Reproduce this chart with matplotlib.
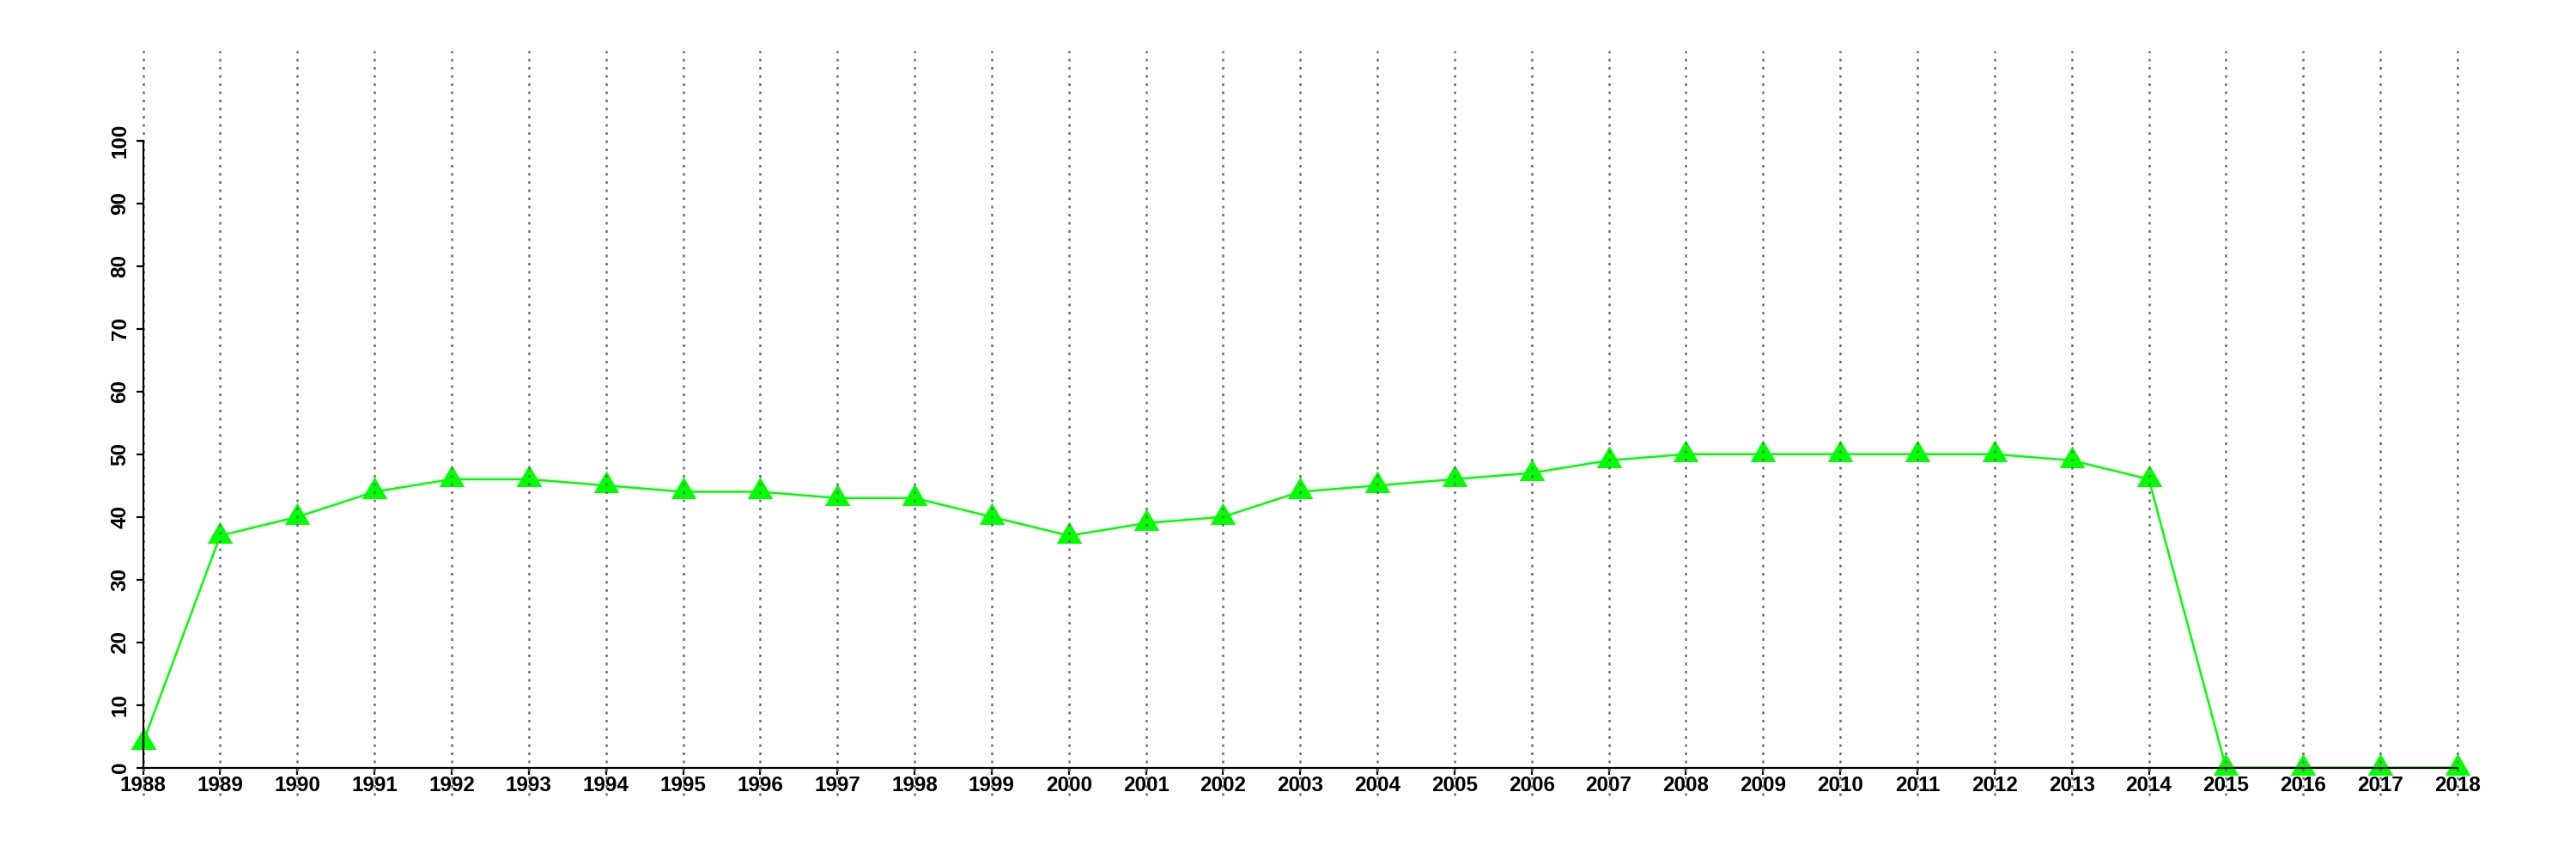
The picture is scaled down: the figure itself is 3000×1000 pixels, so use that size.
import matplotlib
matplotlib.use("Agg")
import matplotlib.pyplot as plt

# yearly values
years = list(range(1988, 2019))
values = [4, 37, 40, 44, 46, 46, 45, 44, 44, 43, 43, 40, 37, 39, 40,
          44, 45, 46, 47, 49, 50, 50, 50, 50, 50, 49, 46, 0, 0, 0, 0]
yticks = list(range(0, 101, 10))

plt.rcParams['font.family'] = ['Liberation Sans', 'DejaVu Sans']
plt.rcParams['font.weight'] = 'bold'

fig = plt.figure(figsize=(30, 10), dpi=100)
ax = fig.add_axes([0.0196, 0.0742, 0.9703, 0.8672])

# equilateral triangle like R's pch=17
tri = [(0, 1), (-0.866, -0.5), (0.866, -0.5)]
ax.plot(years, values, color='#00ff00', lw=1.8, marker=tri, ms=24.5,
        mec='none', mfc='#00ff00', zorder=2)

ax.set_xlim(1986.8, 2019.2)
ax.set_ylim(-4.4, 114.4)

# dotted grid lines across the whole plot region, drawn over the data
ax.vlines(years, -4.4, 114.4, colors='#6e6e6e', lw=1.8,
          linestyles=(0, (1.2, 2.6)), zorder=3, clip_on=False)

for s in ['top', 'right']:
    ax.spines[s].set_visible(False)
ax.spines['left'].set_position(('data', 1988))
ax.spines['left'].set_bounds(0, 100)
ax.spines['bottom'].set_position(('data', 0))
ax.spines['bottom'].set_bounds(1988, 2018)
for s in ['left', 'bottom']:
    ax.spines[s].set_linewidth(1.6)
    ax.spines[s].set_zorder(4)

ax.set_xticks(years)
ax.set_xticklabels([str(y) for y in years])
ax.set_yticks(yticks)
ax.set_yticklabels([str(v) for v in yticks], rotation=90, va='center')
ax.tick_params(axis='both', length=5.8, width=1.6, labelsize=17.5)
ax.tick_params(axis='x', pad=1)
ax.tick_params(axis='y', pad=5)

fig.savefig('out.png', dpi=100)
